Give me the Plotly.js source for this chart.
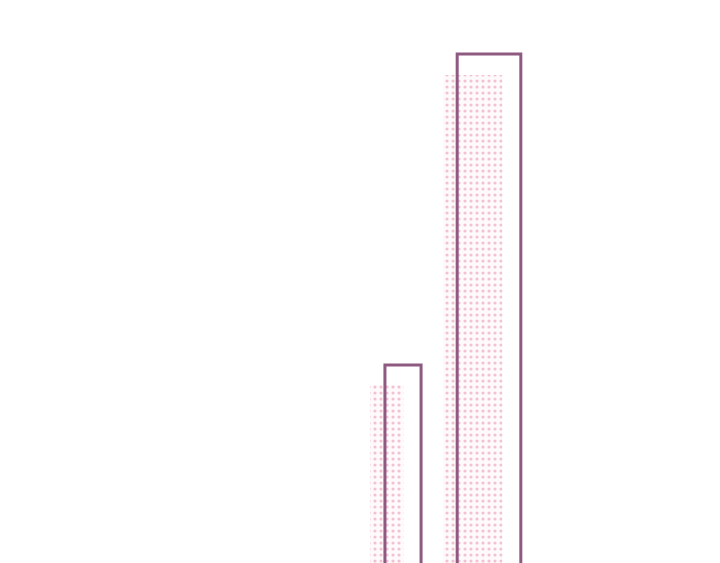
<!DOCTYPE html>
<html>
<head>
<meta charset="utf-8">
<script src="https://cdn.plot.ly/plotly-3.0.1.min.js"></script>
<style>
  html, body { margin: 0; padding: 0; background: #ffffff; }
  #chart { width: 720px; height: 563px; }
</style>
</head>
<body>
<div id="chart"></div>
<script>
var categories = ['A', 'B'];
var actual_values = [47, 109.2];
var shadow_values = [43, 105];

var shadow = {
    x: categories,
    y: shadow_values,
    type: 'bar',
    offset: [-0.384, -0.535],
    width: [0.39, 0.69],
    marker: {
        color: 'rgba(0,0,0,0)',
        line: {width: 0},
        pattern: {shape: '.', fgcolor: '#f2c2d4', bgcolor: 'rgba(248,220,230,0.18)', size: 6, solidity: 0.22}
    },
    hoverinfo: 'skip',
    showlegend: false
};
var actual = {
    x: categories,
    y: actual_values,
    type: 'bar',
    offset: [-0.21, -0.37],
    width: [0.42, 0.74],
    marker: {
        color: 'rgba(0,0,0,0)',
        line: {color: '#8e5a80', width: 3}
    },
    showlegend: false
};

var layout = {
    width: 720,
    height: 563,
    margin: {l: 0, r: 0, t: 0, b: 0},
    paper_bgcolor: '#ffffff',
    plot_bgcolor: '#ffffff',
    barmode: 'overlay',
    xaxis: {type: 'category', range: [-4.686, 3.686], visible: false},
    yaxis: {range: [7.4, 120], visible: false}
};

Plotly.newPlot('chart', [shadow, actual], layout, {staticPlot: true});
</script>
</body>
</html>
